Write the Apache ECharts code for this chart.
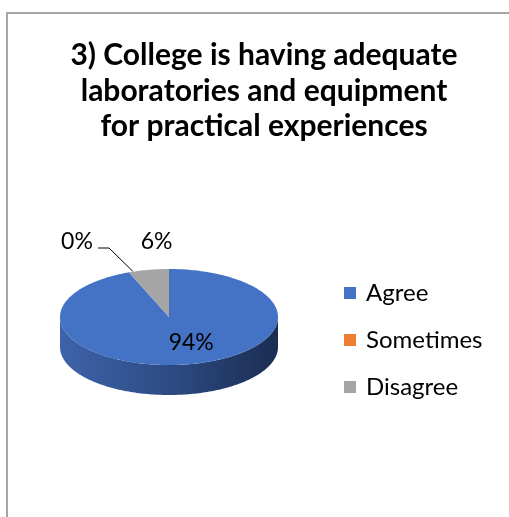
<!DOCTYPE html>
<html>
<head>
<meta charset="utf-8">
<script src="https://cdn.jsdelivr.net/npm/echarts@6/dist/echarts.min.js"></script>
<style>
  html, body { margin: 0; padding: 0; background: #ffffff; }
  #chart { width: 509px; height: 517px; }
</style>
</head>
<body>
<div id="chart"></div>
<script>
// Survey answers shown as a tilted 3-D pie
const categories = ['Agree', 'Sometimes', 'Disagree'];
const values = [94, 0, 6];
const percentLabels = ['94%', '0%', '6%'];
const colors = ['#4472C4', '#ED7D31', '#A5A5A5'];

// Pie geometry (pixels)
const CX = 169, CY = 317, RX = 109, RY = 48, DEPTH = 30;
const FONT = 'Lato, "Noto Sans", sans-serif';

const total = values.reduce((a, b) => a + b, 0);
// cumulative angles, clockwise from 12 o'clock
const startAngles = [];
let acc = 0;
values.forEach(v => { startAngles.push(acc / total * Math.PI * 2); acc += v; });

function rim(phi, dy) {
  return [CX + RX * Math.sin(phi), CY - RY * Math.cos(phi) + (dy || 0)];
}
function arc(a0, a1, dy) {
  const pts = [];
  const n = Math.max(2, Math.ceil(Math.abs(a1 - a0) / 0.02));
  for (let k = 0; k <= n; k++) pts.push(rim(a0 + (a1 - a0) * k / n, dy));
  return pts;
}

function renderSlice(idx) {
  return function (params, api) {
    const a0 = startAngles[idx];
    const a1 = a0 + values[idx] / total * Math.PI * 2;
    const children = [];
    if (a1 > a0) {
      // front wall, visible for the lower half of the rim
      const s = Math.max(a0, Math.PI / 2), e = Math.min(a1, Math.PI * 1.5);
      if (e > s) {
        const top = arc(s, e, 0);
        const bottom = arc(e, s, DEPTH);
        const darker = idx === 0
          ? new echarts.graphic.LinearGradient(0, 0, 1, 0, [
              { offset: 0, color: '#3d63aa' },
              { offset: 0.45, color: '#2f4e88' },
              { offset: 1, color: '#1b2d52' }])
          : '#7a7a7a';
        children.push({ type: 'polygon', z2: 1, shape: { points: top.concat(bottom) },
                        style: { fill: darker } });
      }
      // top face
      children.push({ type: 'polygon', z2: 2,
                      shape: { points: [[CX, CY]].concat(arc(a0, a1, 0)) },
                      style: { fill: colors[idx] } });
    }
    // value labels
    const mid = (a0 + a1) / 2;
    const txt = { fontSize: 23, fontFamily: FONT, fill: '#000', align: 'center', verticalAlign: 'middle' };
    if (idx === 0) {
      const p = rim(mid, 0);
      children.push({ type: 'text', z2: 5,
        style: Object.assign({ text: percentLabels[idx], x: CX + (p[0] - CX) * 0.55 + 11, y: CY + (p[1] - CY) * 0.55 }, txt) });
    } else if (idx === 1) {
      const p = rim(a0, 0);
      children.push({ type: 'polyline', z2: 5,
        shape: { points: [[98, 248], [109, 248], [p[0] + 4, p[1] - 1]] },
        style: { stroke: '#000', lineWidth: 1, fill: null } });
      children.push({ type: 'text', z2: 5,
        style: Object.assign({ text: percentLabels[idx], x: 77, y: 242 }, txt) });
    } else {
      const p = rim(mid, 0);
      children.push({ type: 'text', z2: 5,
        style: Object.assign({ text: percentLabels[idx], x: p[0] + 8, y: p[1] - 28 }, txt) });
    }
    return { type: 'group', children: children };
  };
}

const chart = echarts.init(document.getElementById('chart'));
chart.setOption({
  backgroundColor: '#ffffff',
  animation: false,
  title: {
    text: '3) College is having adequate\nlaboratories and equipment\nfor practical experiences',
    left: 259, top: 33, textAlign: 'center',
    textStyle: { fontFamily: FONT, fontWeight: 'bold', fontSize: 30, lineHeight: 35.5, color: '#000' }
  },
  legend: {
    orient: 'vertical', left: 344, top: 281, padding: 0,
    data: categories, icon: 'rect', itemWidth: 12, itemHeight: 12, itemGap: 23,
    textStyle: { fontFamily: FONT, fontSize: 24, lineHeight: 24, color: '#000', padding: [0, 0, 0, 5] }
  },
  graphic: [{
    type: 'polyline', silent: true,
    shape: { points: [[7, 530], [7, 13], [520, 13]] },
    style: { stroke: '#a6a6a6', lineWidth: 2, fill: null }
  }],
  series: categories.map((name, i) => ({
    type: 'custom', name: name, coordinateSystem: 'none',
    itemStyle: { color: colors[i] },
    data: [[values[i]]],
    renderItem: renderSlice(i)
  }))
});
</script>
</body>
</html>
